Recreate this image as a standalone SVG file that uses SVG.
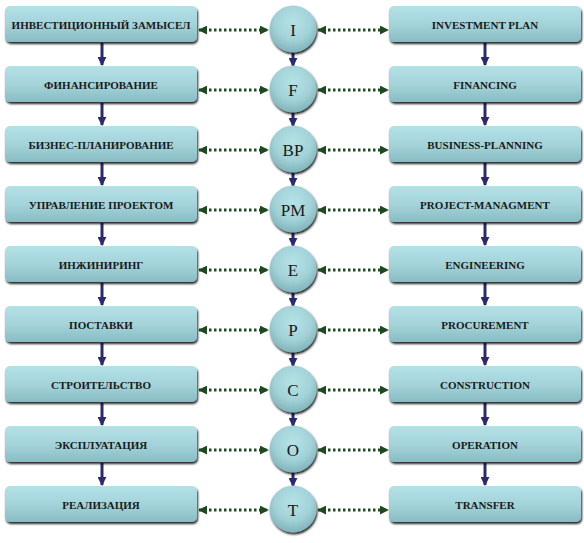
<svg xmlns="http://www.w3.org/2000/svg" width="584" height="543" viewBox="0 0 584 543">
<defs>
<linearGradient id="gb" x1="0" y1="0" x2="0" y2="1">
<stop offset="0" stop-color="#b2e1e6"/>
<stop offset="0.5" stop-color="#a4d4da"/>
<stop offset="1" stop-color="#88bcc3"/>
</linearGradient>
<radialGradient id="gc" cx="0.5" cy="0.35" r="0.65">
<stop offset="0" stop-color="#b4e2e7"/>
<stop offset="0.6" stop-color="#a2d2d8"/>
<stop offset="1" stop-color="#80b3ba"/>
</radialGradient>
<filter id="sh" x="-10%" y="-20%" width="120%" height="150%">
<feDropShadow dx="1" dy="2" stdDeviation="0.8" flood-color="#000" flood-opacity="0.85"/>
</filter>
<marker id="an" viewBox="0 0 10 10" refX="9" refY="5" markerWidth="3" markerHeight="3" orient="auto" markerUnits="strokeWidth">
<path d="M0,0 L10,5 L0,10 z" fill="#2b2a6c"/>
</marker>
<marker id="ag" viewBox="0 0 10 10" refX="9" refY="5" markerWidth="3" markerHeight="3" orient="auto-start-reverse" markerUnits="strokeWidth">
<path d="M0,0 L10,5 L0,10 z" fill="#1d4a1f"/>
</marker>
</defs>
<style>
.box{fill:url(#gb);filter:url(#sh)}
.circ{fill:url(#gc);filter:url(#sh)}
.bt{font-family:"Liberation Serif","Times New Roman",serif;font-weight:bold;font-size:11px;fill:#1a1a1a;text-anchor:middle}
.ct{font-family:"Liberation Serif","Times New Roman",serif;font-size:17px;fill:#1a1a1a;text-anchor:middle}
.va{stroke:#2b2a6c;stroke-width:3;fill:none;marker-end:url(#an)}
.da{stroke:#1d4a1f;stroke-width:3;fill:none;stroke-dasharray:2.5 2.5;marker-start:url(#ag);marker-end:url(#ag)}
</style>
<g id="connectors">
<line class="va" x1="102" y1="43" x2="102" y2="65"/>
<line class="va" x1="102" y1="103" x2="102" y2="125"/>
<line class="va" x1="102" y1="163" x2="102" y2="185"/>
<line class="va" x1="102" y1="223" x2="102" y2="245"/>
<line class="va" x1="102" y1="283" x2="102" y2="305"/>
<line class="va" x1="102" y1="343" x2="102" y2="365"/>
<line class="va" x1="102" y1="403" x2="102" y2="425"/>
<line class="va" x1="102" y1="463" x2="102" y2="485"/>
<line class="va" x1="485" y1="43" x2="485" y2="65"/>
<line class="va" x1="485" y1="103" x2="485" y2="125"/>
<line class="va" x1="485" y1="163" x2="485" y2="185"/>
<line class="va" x1="485" y1="223" x2="485" y2="245"/>
<line class="va" x1="485" y1="283" x2="485" y2="305"/>
<line class="va" x1="485" y1="343" x2="485" y2="365"/>
<line class="va" x1="485" y1="403" x2="485" y2="425"/>
<line class="va" x1="485" y1="463" x2="485" y2="485"/>
<line class="va" x1="293" y1="50" x2="293" y2="66"/>
<line class="va" x1="293" y1="110" x2="293" y2="126"/>
<line class="va" x1="293" y1="170" x2="293" y2="186"/>
<line class="va" x1="293" y1="230" x2="293" y2="246"/>
<line class="va" x1="293" y1="290" x2="293" y2="306"/>
<line class="va" x1="293" y1="350" x2="293" y2="366"/>
<line class="va" x1="293" y1="410" x2="293" y2="426"/>
<line class="va" x1="293" y1="470" x2="293" y2="486"/>
<line class="da" x1="199" y1="30" x2="268" y2="30"/>
<line class="da" x1="318" y1="30" x2="388" y2="30"/>
<line class="da" x1="199" y1="90" x2="268" y2="90"/>
<line class="da" x1="318" y1="90" x2="388" y2="90"/>
<line class="da" x1="199" y1="150" x2="268" y2="150"/>
<line class="da" x1="318" y1="150" x2="388" y2="150"/>
<line class="da" x1="199" y1="210" x2="268" y2="210"/>
<line class="da" x1="318" y1="210" x2="388" y2="210"/>
<line class="da" x1="199" y1="270" x2="268" y2="270"/>
<line class="da" x1="318" y1="270" x2="388" y2="270"/>
<line class="da" x1="199" y1="330" x2="268" y2="330"/>
<line class="da" x1="318" y1="330" x2="388" y2="330"/>
<line class="da" x1="199" y1="390" x2="268" y2="390"/>
<line class="da" x1="318" y1="390" x2="388" y2="390"/>
<line class="da" x1="199" y1="450" x2="268" y2="450"/>
<line class="da" x1="318" y1="450" x2="388" y2="450"/>
<line class="da" x1="199" y1="510" x2="268" y2="510"/>
<line class="da" x1="318" y1="510" x2="388" y2="510"/>
</g>
<g id="l1"><rect class="box" x="5" y="6" width="192" height="36" rx="5"/><text class="bt" x="101" y="29">ИНВЕСТИЦИОННЫЙ ЗАМЫСЕЛ</text></g>
<g id="l2"><rect class="box" x="5" y="66" width="192" height="36" rx="5"/><text class="bt" x="101" y="89">ФИНАНСИРОВАНИЕ</text></g>
<g id="l3"><rect class="box" x="5" y="126" width="192" height="36" rx="5"/><text class="bt" x="101" y="149">БИЗНЕС-ПЛАНИРОВАНИЕ</text></g>
<g id="l4"><rect class="box" x="5" y="186" width="192" height="36" rx="5"/><text class="bt" x="101" y="209">УПРАВЛЕНИЕ ПРОЕКТОМ</text></g>
<g id="l5"><rect class="box" x="5" y="246" width="192" height="36" rx="5"/><text class="bt" x="101" y="269">ИНЖИНИРИНГ</text></g>
<g id="l6"><rect class="box" x="5" y="306" width="192" height="36" rx="5"/><text class="bt" x="101" y="329">ПОСТАВКИ</text></g>
<g id="l7"><rect class="box" x="5" y="366" width="192" height="36" rx="5"/><text class="bt" x="101" y="389">СТРОИТЕЛЬСТВО</text></g>
<g id="l8"><rect class="box" x="5" y="426" width="192" height="36" rx="5"/><text class="bt" x="101" y="449">ЭКСПЛУАТАЦИЯ</text></g>
<g id="l9"><rect class="box" x="5" y="486" width="192" height="36" rx="5"/><text class="bt" x="101" y="509">РЕАЛИЗАЦИЯ</text></g>
<g id="c1"><circle class="circ" cx="293" cy="29" r="23.5"/><text class="ct" x="293" y="36">I</text></g>
<g id="c2"><circle class="circ" cx="293" cy="89" r="23.5"/><text class="ct" x="293" y="96">F</text></g>
<g id="c3"><circle class="circ" cx="293" cy="149" r="23.5"/><text class="ct" x="293" y="156">BP</text></g>
<g id="c4"><circle class="circ" cx="293" cy="209" r="23.5"/><text class="ct" x="293" y="216">PM</text></g>
<g id="c5"><circle class="circ" cx="293" cy="269" r="23.5"/><text class="ct" x="293" y="276">E</text></g>
<g id="c6"><circle class="circ" cx="293" cy="329" r="23.5"/><text class="ct" x="293" y="336">P</text></g>
<g id="c7"><circle class="circ" cx="293" cy="389" r="23.5"/><text class="ct" x="293" y="396">C</text></g>
<g id="c8"><circle class="circ" cx="293" cy="449" r="23.5"/><text class="ct" x="293" y="456">O</text></g>
<g id="c9"><circle class="circ" cx="293" cy="509" r="23.5"/><text class="ct" x="293" y="516">T</text></g>
<g id="r1"><rect class="box" x="389" y="6" width="192" height="36" rx="5"/><text class="bt" x="485" y="29">INVESTMENT PLAN</text></g>
<g id="r2"><rect class="box" x="389" y="66" width="192" height="36" rx="5"/><text class="bt" x="485" y="89">FINANCING</text></g>
<g id="r3"><rect class="box" x="389" y="126" width="192" height="36" rx="5"/><text class="bt" x="485" y="149">BUSINESS-PLANNING</text></g>
<g id="r4"><rect class="box" x="389" y="186" width="192" height="36" rx="5"/><text class="bt" x="485" y="209">PROJECT-MANAGMENT</text></g>
<g id="r5"><rect class="box" x="389" y="246" width="192" height="36" rx="5"/><text class="bt" x="485" y="269">ENGINEERING</text></g>
<g id="r6"><rect class="box" x="389" y="306" width="192" height="36" rx="5"/><text class="bt" x="485" y="329">PROCUREMENT</text></g>
<g id="r7"><rect class="box" x="389" y="366" width="192" height="36" rx="5"/><text class="bt" x="485" y="389">CONSTRUCTION</text></g>
<g id="r8"><rect class="box" x="389" y="426" width="192" height="36" rx="5"/><text class="bt" x="485" y="449">OPERATION</text></g>
<g id="r9"><rect class="box" x="389" y="486" width="192" height="36" rx="5"/><text class="bt" x="485" y="509">TRANSFER</text></g>
</svg>
